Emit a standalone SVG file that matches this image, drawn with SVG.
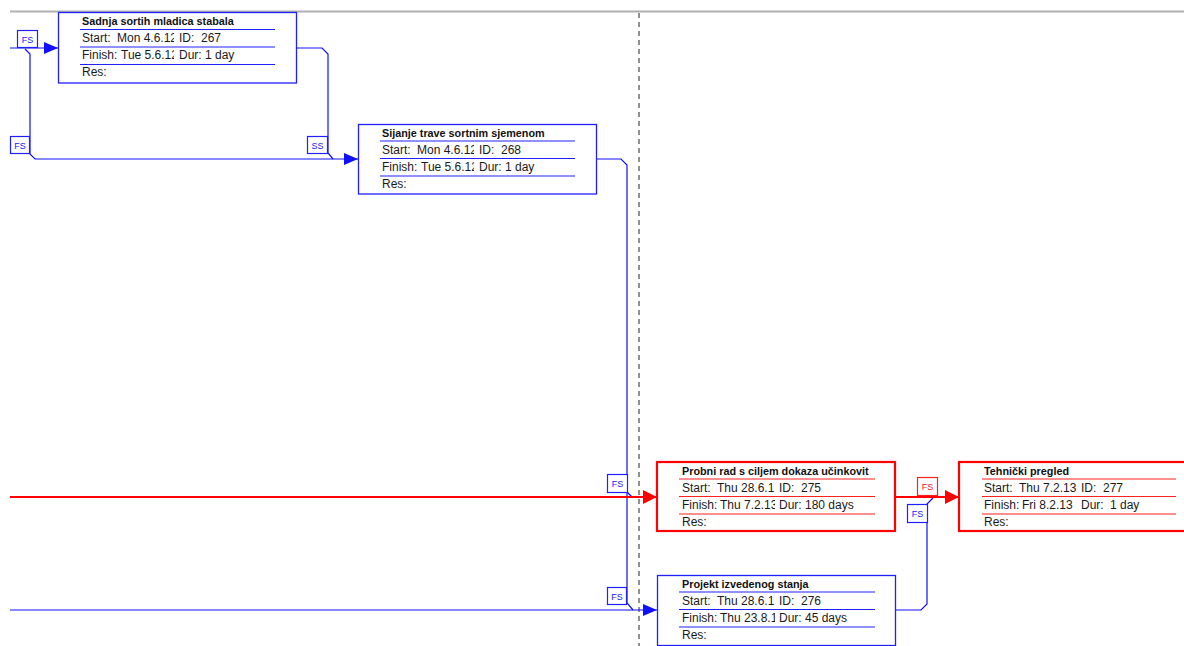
<svg xmlns="http://www.w3.org/2000/svg" width="1184" height="646" viewBox="0 0 1184 646">
<style>
.bg{fill:#ffffff}
.nb{fill:#ffffff;stroke:#2020ff;stroke-width:1.3}
.nr{fill:#ffffff;stroke:#ff0000;stroke-width:2.2}
.sb{stroke:#2020ff;stroke-width:1.2}
.sr{stroke:#ff2020;stroke-width:1.2}
.t{font-family:"Liberation Sans",Arial,sans-serif;font-size:12px;fill:#1a1a1a}
.h{font-family:"Liberation Sans",Arial,sans-serif;font-size:10.8px;font-weight:bold;fill:#111111}
.cb{fill:none;stroke:#1010ff;stroke-width:1.2}
.cr{fill:none;stroke:#ff0000;stroke-width:2}
.lb{fill:#ffffff;stroke:#2020ff;stroke-width:1.2}
.lr{fill:#ffffff;stroke:#ff2020;stroke-width:1.2}
.lt{font-family:"Liberation Sans",Arial,sans-serif;font-size:9px;text-anchor:middle}
</style>
<defs>
<marker id="ab" markerUnits="userSpaceOnUse" markerWidth="14" markerHeight="12" refX="14" refY="6" orient="auto"><path d="M0,0 L14,6 L0,12 Z" fill="#1010ff"/></marker>
<marker id="ar" markerUnits="userSpaceOnUse" markerWidth="14" markerHeight="14" refX="14" refY="7" orient="auto"><path d="M0,0 L14,7 L0,14 Z" fill="#ff0000"/></marker>
<clipPath id="c1" clipPathUnits="userSpaceOnUse"><rect x="0" y="0" width="116" height="70"/></clipPath>
<clipPath id="c3" clipPathUnits="userSpaceOnUse"><rect x="0" y="0" width="118" height="70"/></clipPath>
<clipPath id="c2" clipPathUnits="userSpaceOnUse"><rect x="119" y="0" width="99" height="70"/></clipPath>
</defs>
<rect class="bg" x="0" y="0" width="1184" height="646"/>
<line x1="10" y1="11.5" x2="1184" y2="11.5" stroke="#b0b0b0" stroke-width="2"/>
<line x1="639" y1="13" x2="639" y2="646" stroke="#222222" stroke-width="1" stroke-dasharray="5,4"/>

<g id="connectors">
<path class="cb" d="M10,48 H58" marker-end="url(#ab)"/>
<path class="cb" d="M25,49 L30,54 V154 L35,159 H358" marker-end="url(#ab)"/>
<path class="cb" d="M296,48 H322 L328,54 V153 L333,159"/>
<path class="cb" d="M596,159 H621 L627,165 V603 L633,610"/>
<path class="cb" d="M627,492 L632,497"/>
<path class="cb" d="M10,610 H657" marker-end="url(#ab)"/>
<path class="cb" d="M896,610 H921 L927,604 V504 L933,498"/>
<path class="cr" d="M10,497 H657" marker-end="url(#ar)"/>
<path class="cr" d="M896,497 H959" marker-end="url(#ar)"/>
<g id="labels">
<rect class="lb" x="17.5" y="30.5" width="20" height="17"/><text class="lt" x="27.5" y="42.5" fill="#2020ff">FS</text>
<rect class="lb" x="10.5" y="136.5" width="19" height="17"/><text class="lt" x="20" y="148.5" fill="#2020ff">FS</text>
<rect class="lb" x="307.5" y="136.5" width="20" height="17"/><text class="lt" x="317.5" y="148.5" fill="#2020ff">SS</text>
<rect class="lb" x="607.5" y="474.5" width="20" height="18"/><text class="lt" x="617.5" y="487" fill="#2020ff">FS</text>
<rect class="lb" x="607.5" y="587.5" width="19" height="17"/><text class="lt" x="617" y="599.5" fill="#2020ff">FS</text>
<rect class="lb" x="907.5" y="504.5" width="20" height="18"/><text class="lt" x="917.5" y="517" fill="#2020ff">FS</text>
<rect class="lr" x="917.5" y="477.5" width="20" height="18"/><text class="lt" x="927.5" y="490" fill="#ff2020">FS</text>
</g>
</g>

<g id="node267" transform="translate(58,12)">
<rect class="nb" x="0.5" y="0.5" width="238" height="70.5"/>
<text class="h" x="24" y="13">Sadnja sortih mladica stabala</text>
<line class="sb" x1="22" y1="17.5" x2="217" y2="17.5"/>
<line class="sb" x1="22" y1="35" x2="217" y2="35"/>
<line class="sb" x1="22" y1="52.5" x2="217" y2="52.5"/>
<g clip-path="url(#c1)"><text class="t" x="24" y="30">Start:</text><text class="t" x="59" y="30">Mon 4.6.12</text><text class="t" x="24" y="47">Finish:</text><text class="t" x="63" y="47">Tue 5.6.12</text></g>
<g clip-path="url(#c2)"><text class="t" x="121" y="30">ID:</text><text class="t" x="143" y="30">267</text><text class="t" x="121" y="47">Dur:</text><text class="t" x="147" y="47">1 day</text></g>
<text class="t" x="24" y="64">Res:</text>
</g>

<g id="node268" transform="translate(358,124)">
<rect class="nb" x="0.5" y="0.5" width="238" height="69.5"/>
<text class="h" x="24" y="13">Sijanje trave sortnim sjemenom</text>
<line class="sb" x1="22" y1="17" x2="217" y2="17"/>
<line class="sb" x1="22" y1="34.5" x2="217" y2="34.5"/>
<line class="sb" x1="22" y1="52" x2="217" y2="52"/>
<g clip-path="url(#c1)"><text class="t" x="24" y="30">Start:</text><text class="t" x="59" y="30">Mon 4.6.12</text><text class="t" x="24" y="47">Finish:</text><text class="t" x="63" y="47">Tue 5.6.12</text></g>
<g clip-path="url(#c2)"><text class="t" x="121" y="30">ID:</text><text class="t" x="143" y="30">268</text><text class="t" x="121" y="47">Dur:</text><text class="t" x="147" y="47">1 day</text></g>
<text class="t" x="24" y="64">Res:</text>
</g>

<g id="node275" transform="translate(657,462)">
<rect class="nr" x="0" y="0" width="238" height="69"/>
<text class="h" x="25" y="13">Probni rad s ciljem dokaza učinkovit</text>
<line class="sr" x1="22" y1="17" x2="218" y2="17"/>
<line class="sr" x1="22" y1="34.5" x2="218" y2="34.5"/>
<line class="sr" x1="22" y1="52" x2="218" y2="52"/>
<g clip-path="url(#c3)"><text class="t" x="25" y="30">Start:</text><text class="t" x="60" y="30">Thu 28.6.1</text><text class="t" x="25" y="47">Finish:</text><text class="t" x="63" y="47">Thu 7.2.13</text></g>
<g clip-path="url(#c2)"><text class="t" x="122" y="30">ID:</text><text class="t" x="144" y="30">275</text><text class="t" x="122" y="47">Dur:</text><text class="t" x="148" y="47">180 days</text></g>
<text class="t" x="25" y="64">Res:</text>
</g>

<g id="node276" transform="translate(657,575)">
<rect class="nb" x="0.5" y="0.5" width="238" height="70"/>
<text class="h" x="25" y="13">Projekt izvedenog stanja</text>
<line class="sb" x1="22" y1="17" x2="218" y2="17"/>
<line class="sb" x1="22" y1="34.5" x2="218" y2="34.5"/>
<line class="sb" x1="22" y1="52" x2="218" y2="52"/>
<g clip-path="url(#c3)"><text class="t" x="25" y="30">Start:</text><text class="t" x="60" y="30">Thu 28.6.1</text><text class="t" x="25" y="47">Finish:</text><text class="t" x="63" y="47">Thu 23.8.1</text></g>
<g clip-path="url(#c2)"><text class="t" x="122" y="30">ID:</text><text class="t" x="144" y="30">276</text><text class="t" x="122" y="47">Dur:</text><text class="t" x="148" y="47">45 days</text></g>
<text class="t" x="25" y="64">Res:</text>
</g>

<g id="node277" transform="translate(959,462)">
<rect class="nr" x="0" y="0" width="238" height="69"/>
<text class="h" x="25" y="13">Tehnički pregled</text>
<line class="sr" x1="23" y1="17" x2="217" y2="17"/>
<line class="sr" x1="23" y1="34.5" x2="217" y2="34.5"/>
<line class="sr" x1="23" y1="52" x2="217" y2="52"/>
<g clip-path="url(#c3)"><text class="t" x="25" y="30">Start:</text><text class="t" x="60" y="30">Thu 7.2.13</text><text class="t" x="25" y="47">Finish:</text><text class="t" x="63" y="47">Fri 8.2.13</text></g>
<g clip-path="url(#c2)"><text class="t" x="122" y="30">ID:</text><text class="t" x="144" y="30">277</text><text class="t" x="122" y="47">Dur:</text><text class="t" x="151" y="47">1 day</text></g>
<text class="t" x="25" y="64">Res:</text>
</g>
</svg>
